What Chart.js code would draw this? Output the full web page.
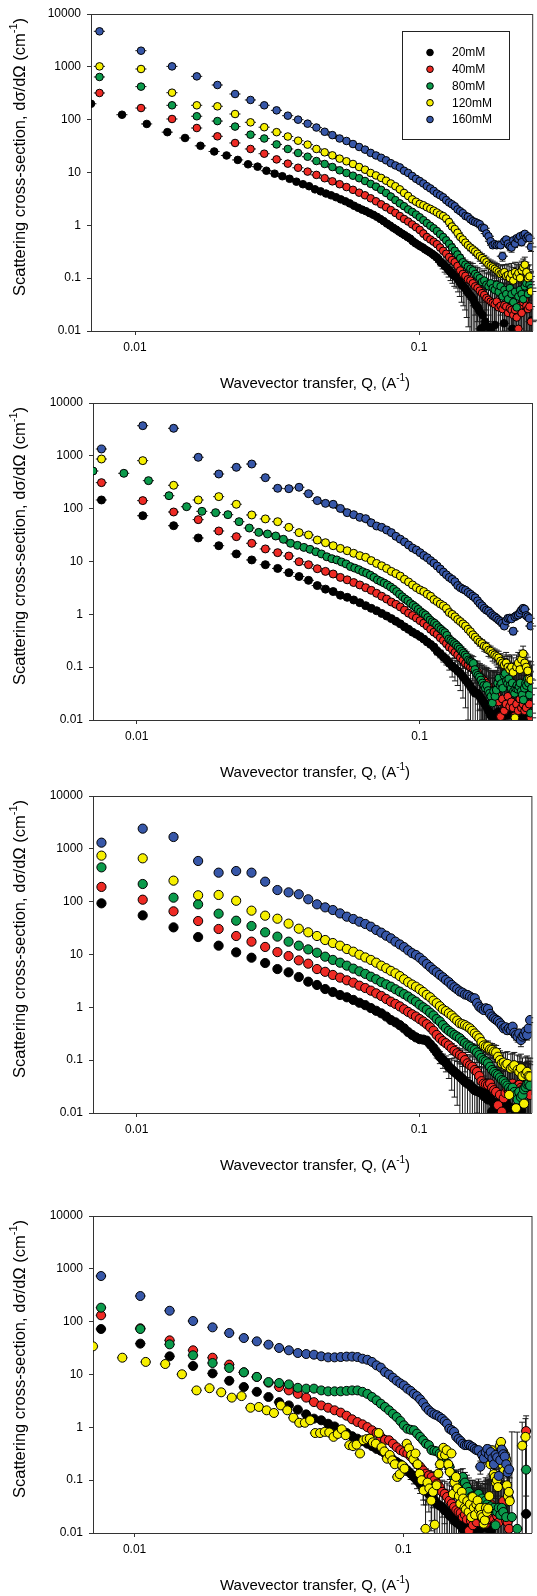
<!DOCTYPE html>
<html>
<head>
<meta charset="utf-8">
<script src="https://cdn.jsdelivr.net/npm/chart.js@4.4.1/dist/chart.umd.min.js"></script>
<style>
  html, body { margin: 0; padding: 0; background: #fff; overflow: hidden; }
  .panel { position: absolute; left: 0; width: 537px; height: 396px; }
</style>
</head>
<body>
<div class="panel" style="top:0px"><canvas id="c1" width="537" height="396"></canvas></div>
<div class="panel" style="top:389px"><canvas id="c2" width="537" height="396"></canvas></div>
<div class="panel" style="top:782px"><canvas id="c3" width="537" height="396"></canvas></div>
<div class="panel" style="top:1202px"><canvas id="c4" width="537" height="396"></canvas></div>
<script>
const concentrations = ['20mM', '40mM', '80mM', '120mM', '160mM'];
const seriesColors = ['#000000', '#ee2a24', '#0b9a4b', '#f6ef00', '#3757a8'];
const yTicks = [0.01, 0.1, 1, 10, 100, 1000, 10000];
const xTicks = [0.01, 0.1];
const xTitle = [['Wavevector transfer, Q, (A', false], ['-1', true], [')', false]];
const yTitle = [['Scattering cross-section, d\u03c3/d\u03a9 (cm', false], ['-1', true], [')', false]];

// Q grids (A^-1)
const qA = [0.0075,0.0105,0.0135,0.0165,0.0195,0.0225,0.0255,0.0285,0.0315,0.0345,
  0.0375,0.0405,0.0435,0.0465,0.0495,0.0525,0.0555,0.0585,0.0615,0.0645,
  0.0675,0.0705,0.0735,0.0765,0.0795,0.0825,0.0855,0.0885,0.0915,0.0945,
  0.0975,0.1005,0.1035,0.1065,0.1095,0.1125,0.1155,0.1185,0.1215,0.1245,
  0.1275,0.1305,0.1335,0.1365,0.1395,0.1425,0.1455,0.1485,0.1515,0.1545,
  0.1575,0.1605,0.1635,0.1665,0.1695,0.1725,0.1755,0.1785,0.1815,0.1845,
  0.1875,0.1905,0.1935,0.1965,0.1995,0.2025,0.2055,0.2085,0.2115,0.2145,
  0.2175,0.2205,0.2235,0.2265,0.2295,0.2325,0.2355,0.2385,0.2415,0.2445,
  0.2475];
const qA4 = qA.concat([0.2505,0.2535,0.2565,0.2595,0.2625,0.2655,0.2685,0.2715,0.2745,0.2775,
  0.2805,0.2835,0.2865,0.2895,0.2925,0.2955]);
const qB = [0.007,0.009,0.011,0.013,0.015,0.017,0.019,0.021,0.023,0.025,
  0.027,0.029,0.031,0.033,0.035,0.037,0.039,0.041,0.043,0.045,
  0.047,0.049,0.051,0.053,0.055,0.057,0.059,0.061,0.063,0.065,
  0.067,0.069,0.071,0.073,0.075,0.077,0.079,0.081,0.083,0.085,
  0.087,0.089,0.091,0.093,0.095,0.097,0.099,0.101,0.103,0.105,
  0.107,0.109,0.111,0.113,0.115,0.117,0.119,0.121,0.123,0.125,
  0.127,0.129,0.131,0.133,0.135,0.137,0.139,0.141,0.143,0.145,
  0.147,0.149,0.151,0.153,0.155,0.157,0.159,0.161,0.163,0.165,
  0.167,0.169,0.171,0.173,0.175,0.177,0.179,0.181,0.183,0.185,
  0.187,0.189,0.191,0.193,0.195,0.197,0.199,0.201,0.203,0.205,
  0.207,0.209,0.211,0.213,0.215,0.217,0.219,0.221,0.223,0.225,
  0.227,0.229,0.231,0.233,0.235,0.237,0.239,0.241,0.243,0.245,
  0.247,0.249];
const qB4 = qB.concat([0.251,0.253,0.255,0.257,0.259,0.261,0.263,0.265,0.267,0.269,
  0.271,0.273,0.275,0.277,0.279,0.281,0.283,0.285,0.287,0.289,
  0.291,0.293,0.295,0.297,0.299]);

// ---- panel 1 ----
const p1Black = [200,124,83,58,45,32,25,21,17.3,14.3,
  12.9,10.8,9.5,8.5,7.6,6.7,6.0,5.5,4.8,4.4,
  4.0,3.7,3.4,3.1,2.85,2.6,2.35,2.15,1.98,1.85,
  1.7,1.58,1.45,1.32,1.2,1.08,0.99,0.9,0.83,0.76,
  0.70,0.65,0.6,0.56,0.5,0.46,0.43,0.40,0.38,0.35,
  0.33,0.31,0.29,0.27,0.25,0.23,0.2,0.19,0.17,0.16,
  0.145,0.13,0.12,0.11,0.105,0.095,0.085,0.075,0.07,0.065,
  0.058,0.052,0.048,0.044,0.04,0.034,0.03,0.028,0.024,0.011,
  0.02,0.012,0.015,null,0.012,null,0.011,null,null,0.013,
  null,null,null,null,null,null,0.014,null,null,null,
  null,null,null,0.011,null,null,null,null,null,null,
  null,null,null,null,null,null,null,null,null,null,
  null,0.016];
const p1Red = [320,166,103,69.5,48.4,36.2,27.9,22.7,17.7,14.7,
  12.3,10.4,9.0,7.8,6.8,6.0,5.3,4.7,4.15,3.7,
  3.25,2.85,2.5,2.2,1.95,1.72,1.5,1.32,1.18,1.04,
  0.92,0.82,0.70,0.6,0.54,0.49,0.44,0.38,0.33,0.29,
  0.25,0.22,0.2,0.17,0.14,0.12,0.11,0.095,0.09,0.08,
  0.07,0.065,0.058,0.052,0.048,0.042,0.039,0.036,0.034,0.032,
  0.036,0.028,0.03,0.026,0.031,0.029,0.022,0.027,0.025,0.02,
  0.025,0.018,0.011,0.03,0.022,0.035,0.039,0.03,0.026,0.029,
  0.015];
const p1Green = [643,422,187,116,94,74,52,44,34,27.9,
  23.4,19.9,16.5,14.5,12.7,11.0,9.8,8.7,7.8,6.9,
  6.1,5.4,4.7,4.1,3.5,3.0,2.6,2.3,2.0,1.8,
  1.6,1.42,1.25,1.1,0.98,0.88,0.78,0.68,0.6,0.52,
  0.45,0.38,0.33,0.28,0.24,0.2,0.18,0.165,0.15,0.14,
  0.12,0.11,0.1,0.085,0.09,0.075,0.07,0.08,0.065,0.06,
  0.075,0.055,0.07,0.045,0.06,0.05,0.04,0.065,0.05,0.035,
  0.055,0.028,0.045,0.06,0.05,0.04,0.07,0.08,0.05,0.075,
  0.065];
const p1Yellow = [1020,910,324,187,179,128,89,72,58,48,
  40,33.7,27.9,24.1,21.1,18.3,16.3,14.5,12.7,11.3,
  9.8,8.8,7.9,7.0,6.2,5.5,4.8,4.1,3.6,3.1,
  2.8,2.55,2.4,2.2,2.05,1.9,1.75,1.6,1.5,1.35,
  1.15,0.95,0.85,0.72,0.6,0.54,0.47,0.42,0.38,0.35,
  0.32,0.29,0.26,0.24,0.22,0.2,0.18,0.17,0.16,0.15,
  0.14,0.13,0.12,0.125,0.13,0.11,0.115,0.1,0.12,0.09,
  0.13,0.11,0.125,0.1,0.14,0.16,0.18,0.13,0.1,0.108,
  0.056];
const p1Blue = [4700,2020,1020,660,453,306,236,187,150,119,
  100,84,71,59,51,44,39.5,34.6,30.4,27.1,
  23.5,21,19,17,15,13.6,12.5,10.8,9.8,8.6,
  7.6,6.9,6.2,5.5,5.0,4.5,4.0,3.7,3.4,3.0,
  2.7,2.5,2.3,2.0,1.85,1.7,1.5,1.45,1.3,1.2,
  1.15,1.1,1.05,0.9,0.88,0.7,0.62,0.5,0.42,0.44,
  0.42,0.43,0.42,0.26,0.5,0.54,0.45,0.40,0.38,0.52,
  0.45,0.57,0.55,0.62,0.48,0.66,0.69,0.58,0.62,0.57,
  0.39];
const p1ErrQ = [0.09, 0.12, 0.15, 0.2];
const p1ErrAbs = [0.03, 0.04, 0.05, 0.07];

// ---- panel 2 ----
const p2Black = [146,73.6,47.6,27.9,19.9,13.9,10.7,8.7,7.4,6.15,
  5.2,4.4,3.5,3.0,2.7,2.3,2.1,1.87,1.66,1.46,
  1.3,1.17,1.04,0.93,0.83,0.74,0.66,0.58,0.52,0.46,
  0.42,0.38,0.34,0.3,0.27,0.24,0.2,0.18,0.155,0.14,
  0.118,0.105,0.095,0.085,0.076,0.066,0.057,0.05,0.043,0.037,
  0.032,0.032,0.028,0.024,0.021,0.018,0.015,0.0124,0.0116,0.013,
  0.011,0.0144,0.012,0.011,0.0124,null,0.0124,null,0.013,null,
  0.0124,null,0.013,null,0.0116,null,null,0.0116,null,null,
  null];
const p2Red = [311,142,86.5,62,37.8,29.5,22.1,17.3,14.7,12.7,
  9.9,8.7,7.3,6.5,5.8,5.0,4.5,4.0,3.6,3.2,
  2.85,2.5,2.2,1.95,1.71,1.55,1.38,1.2,1.05,0.95,
  0.85,0.76,0.68,0.6,0.52,0.46,0.42,0.36,0.32,0.28,
  0.24,0.22,0.19,0.17,0.15,0.135,0.118,0.11,0.1,0.095,
  0.09,0.08,0.066,0.06,0.055,0.049,0.043,0.037,0.035,0.032,
  0.03,0.022,0.0116,0.025,0.015,0.02,0.028,0.018,0.022,0.017,
  0.012,0.02,0.015,0.025,0.017,0.02,0.015,0.017,0.03,0.02,
  0.011];
const p2Green = [516,467,339,176,109,89,84,77,56.7,43,
  35.6,33.2,30.4,26.3,22.1,20.2,18.5,17,15.3,13.9,
  12.3,11.3,10.7,9.8,9.0,8.0,7.5,7.0,6.4,6.0,
  5.5,5.0,4.5,4.2,3.9,3.6,3.3,3.0,2.7,2.4,
  2.15,1.95,1.8,1.6,1.48,1.36,1.24,1.12,1.04,0.97,
  0.87,0.78,0.72,0.68,0.62,0.56,0.52,0.48,0.45,0.4,
  0.34,0.32,0.3,0.28,0.26,0.24,0.22,0.2,0.185,0.17,
  0.155,0.137,0.13,0.125,0.118,0.09,0.076,0.07,0.065,0.057,
  0.05,0.045,0.04,0.045,0.036,0.032,0.028,0.021,0.035,0.028,
  0.037,0.05,0.062,0.045,0.049,0.04,0.07,0.076,0.055,0.049,
  0.06,0.045,0.04,0.05,0.035,0.032,0.04,0.045,0.038,0.043,
  0.05,0.035,0.03,0.024,0.04,0.049,0.045,0.06,0.05,0.03,
  0.0135,0.04];
const p2Yellow = [871,811,277,146,169,121,76,64,56.7,44.3,
  35.2,31.8,25.5,22.7,19.9,17.7,16,14.3,12.9,12.0,
  10.4,9.2,8.3,7.4,6.5,5.9,5.3,4.6,4.1,3.6,
  3.2,2.9,2.7,2.4,2.2,1.9,1.74,1.57,1.45,1.3,
  1.08,1.0,0.9,0.8,0.73,0.66,0.6,0.52,0.47,0.41,
  0.37,0.33,0.3,0.28,0.25,0.24,0.21,0.2,0.18,0.17,
  0.16,0.15,0.13,0.12,0.11,0.12,0.1,0.09,0.1,0.08,
  0.011,0.1,0.12,0.09,0.14,0.18,0.12,0.1,0.085,0.06,
  0.057];
const p2Blue = [1346,3720,3320,938,453,606,700,386,243,239,
  254,192,142,126,121,101,84,77,68.5,64.7,
  54,47,44.3,39.5,35.2,30,26.5,23.5,20.5,18,
  16.5,14.7,13,11.8,10.4,9.3,8.2,7.2,6.3,5.6,
  5.0,4.6,4.15,3.5,3.2,3.0,2.85,2.6,2.4,2.2,
  2.05,1.8,1.6,1.45,1.3,1.2,1.15,1.04,0.95,0.9,
  0.84,0.78,0.73,0.68,0.6,0.75,0.84,0.85,0.82,0.48,
  0.9,0.95,0.97,1.05,1.2,1.3,1.25,0.95,0.9,0.84,
  0.6];
const p2ErrQ = [0.1, 0.13, 0.16, 0.2];
const p2ErrAbs = [0.03, 0.04, 0.05, 0.07];

// ---- panel 3 ----
const p3Black = [93,55,32.6,21.4,14.7,11.0,8.7,6.9,5.3,4.6,
  3.75,3.06,2.65,2.22,1.95,1.71,1.55,1.38,1.22,1.1,
  0.97,0.86,0.77,0.67,0.575,0.52,0.46,0.4,0.34,0.3,
  0.27,0.25,0.245,0.234,0.2,0.17,0.14,0.116,0.1,0.09,
  0.075,0.067,0.06,0.054,0.049,0.044,0.039,0.036,0.034,0.03,
  0.027,0.026,0.025,0.024,0.021,0.024,0.018,0.02,0.0106,0.015,
  0.013,0.016,0.012,0.014,0.011,0.016,null,0.013,null,null,
  0.012,null,null,null,0.011,null,null,null,null,null,
  null];
const p3Red = [190,109,65.6,43,30.4,22.4,17.5,13.9,11.1,9.35,
  7.75,6.7,5.3,4.7,4.1,3.65,3.25,2.93,2.57,2.32,
  2.07,1.84,1.64,1.44,1.28,1.16,1.04,0.92,0.82,0.74,
  0.67,0.6,0.54,0.48,0.42,0.36,0.3,0.26,0.23,0.21,
  0.19,0.167,0.15,0.135,0.125,0.116,0.1,0.087,0.08,0.075,
  0.065,0.06,0.05,0.04,0.036,0.035,0.034,0.036,0.03,0.027,
  0.025,0.014,0.022,0.0106,0.019,0.024,0.029,0.026,0.031,0.036,
  0.03,0.028,0.033,0.034,0.03,0.028,0.026,0.03,0.025,0.026,
  0.022];
const p3Green = [446,216,119,89,59.3,43.6,34.6,26.3,21.8,17.5,
  14.7,12.5,10.8,9.1,7.9,7.0,6.15,5.4,4.8,4.3,
  3.8,3.4,3.0,2.72,2.46,2.2,1.98,1.78,1.6,1.42,
  1.28,1.12,1.0,0.9,0.79,0.7,0.6,0.54,0.46,0.4,
  0.36,0.33,0.3,0.28,0.26,0.23,0.21,0.19,0.18,0.165,
  0.156,0.14,0.125,0.11,0.1,0.095,0.087,0.075,0.065,0.06,
  0.055,0.052,0.047,0.042,0.04,0.036,0.033,0.03,0.027,0.03,
  0.025,0.022,0.018,0.025,0.02,0.022,0.028,0.031,0.035,0.036,
  0.033];
const p3Yellow = [743,661,250,132,134,104,67.6,54.3,47.6,38.4,
  30.8,26.3,22.4,18.8,16.5,14.7,12.7,11.3,9.9,8.8,
  7.9,7.0,6.15,5.5,4.9,4.4,3.9,3.4,3.0,2.7,
  2.46,2.2,1.95,1.72,1.55,1.34,1.2,1.05,0.92,0.85,
  0.77,0.7,0.62,0.56,0.5,0.48,0.46,0.43,0.4,0.36,
  0.32,0.29,0.26,0.22,0.19,0.18,0.18,0.16,0.156,0.145,
  0.14,0.116,0.1,0.087,0.09,0.08,0.085,0.022,0.07,0.075,
  0.08,0.0123,0.065,0.06,0.07,0.05,0.015,0.055,0.06,0.05,
  0.049];
const p3Blue = [1309,2410,1675,589,354,380,354,239,166,150,
  138,111,89,78,69.5,60,52,47,41.8,37.8,
  33.6,29.1,25.9,22.7,20.2,17.5,15.5,13.8,12,10.6,
  9.8,8.7,7.6,6.6,5.8,5.1,4.6,4.1,3.7,3.3,
  3.0,2.65,2.4,2.2,2.0,1.9,1.75,1.71,1.6,1.5,
  1.48,1.2,1.03,0.95,0.89,0.96,0.93,0.75,0.67,0.62,
  0.58,0.55,0.5,0.45,0.4,0.42,0.37,0.4,0.37,0.43,
  0.33,0.3,0.28,0.32,0.24,0.28,0.3,0.35,0.3,0.4,
  0.575];
const p3ErrQ = [0.1, 0.13, 0.16, 0.2];
const p3ErrAbs = [0.03, 0.04, 0.05, 0.06];

// ---- panel 4 ----
const p4Black = [72.6,38.4,22.1,14.5,10.5,7.6,5.8,4.7,3.75,3.0,
  2.6,2.16,1.76,1.46,1.36,1.17,1.04,0.88,0.78,0.68,
  0.61,0.55,0.49,0.44,0.39,0.36,0.32,0.27,0.244,0.22,
  0.2,0.178,0.153,0.133,0.115,0.099,0.086,0.072,0.064,0.055,
  0.047,0.041,0.036,0.033,0.031,0.027,0.025,0.0216,0.02,0.0174,
  0.016,0.015,0.014,0.012,0.014,0.016,0.013,0.0116,0.0104,null,
  0.014,null,0.0122,null,null,0.013,null,null,0.011,null,
  null,null,null,null,null,null,null,null,null,null,
  null,null,null,null,null,null,null,null,null,null,
  null,null,null,0.023,null,null,null];
const p4Red = [132,75,44.3,28.7,20.8,15.4,11.0,9.0,7.0,5.8,
  5.0,4.3,3.65,3.0,2.6,2.35,2.1,1.9,1.66,1.42,
  1.26,1.14,1.01,0.88,0.79,0.66,0.58,0.57,0.49,0.42,
  0.37,0.34,0.32,0.28,0.24,0.2,0.18,0.153,0.133,0.123,
  0.115,0.099,0.086,0.074,0.06,0.055,0.048,0.041,0.036,0.031,
  0.027,0.025,0.024,0.02,0.022,0.018,0.011,0.017,0.014,0.02,
  0.016,0.022,0.025,0.019,0.02,0.015,0.018,0.03,0.035,0.02,
  0.018,0.015,0.021,0.016,0.025,0.03,0.04,0.02,0.017,0.016,
  0.012,null,null,null,null,null,null,null,null,null,
  null,null,null,0.85,null,null,null];
const p4Green = [184,72.6,37.2,23.1,16.5,13.3,11.0,9.0,7.2,6.9,
  6.5,5.6,5.4,5.4,5.0,4.8,4.8,4.8,4.9,5.0,
  5.0,4.7,4.3,3.75,3.25,2.8,2.43,2.1,1.8,1.57,
  1.32,1.09,0.94,0.9,0.88,0.76,0.66,0.57,0.49,0.46,
  0.37,0.36,0.35,0.32,0.27,0.24,0.2,0.18,0.133,0.115,
  0.107,0.099,0.11,0.115,0.09,0.074,0.06,0.048,0.05,0.039,
  0.045,0.055,0.036,0.045,0.036,0.041,0.035,0.029,0.032,0.027,
  0.03,0.014,0.025,0.03,0.022,0.03,0.025,null,0.02,null,
  0.044,null,0.02,null,null,null,0.012,null,null,null,
  null,null,null,0.158,null,null,null];
const p4Yellow = [34.1,20.8,17.3,15.8,10.1,5.0,5.5,4.6,3.65,3.9,
  2.35,2.43,2.1,1.87,2.6,2.1,1.52,1.22,1.22,1.36,
  0.78,0.78,0.82,0.8,0.66,0.75,0.92,0.71,0.46,0.44,
  0.47,0.32,0.57,0.6,0.61,0.52,0.49,0.78,0.42,0.35,
  0.255,0.3,0.237,0.2,0.115,0.13,0.19,0.165,0.49,0.4,
  0.3,0.25,0.32,0.2,0.133,0.1,0.064,0.012,0.09,0.07,
  0.041,0.06,0.0144,0.08,0.133,0.2,0.3,0.41,0.3,0.37,
  0.2,0.143,0.32,0.055,0.09,0.115,0.07,0.05,0.036,0.06,
  0.045,0.03,0.028,0.04,0.025,0.035,0.02,0.048,0.03,0.022,
  0.035,0.041,0.028,0.03,0.022,0.02,0.015,0.0174,0.03,0.025,
  0.029,0.05,0.2,0.37,0.25,0.13,0.115,0.09,0.1,0.074,
  0.3,0.45,0.53,0.2,0.35,0.15,0.3,0.255,0.08,0.05,
  0.06,0.04,null,null,null,null,null,null,null,null,
  null,null,null,null,null,0.45,null,null,null,0.66,
  null,null,null,null,null,null,null];
const p4Blue = [731,306,161,103,78,61,49,42.4,36.7,31.8,
  28.7,25.5,24.4,23.7,22.1,21.1,21.1,21.4,21.8,21.8,
  21.4,19.9,19,17.3,14.9,13.5,11.1,10,8.7,7.6,
  6.8,6.2,5.4,4.9,4.3,3.9,3.4,2.9,2.4,2.1,
  1.9,1.76,1.69,1.57,1.45,1.3,1.17,0.94,0.88,0.82,
  0.66,0.6,0.55,0.49,0.46,0.46,0.47,0.44,0.42,0.39,
  0.37,0.37,0.18,0.3,0.26,0.34,0.39,0.3,0.34,0.26,
  0.2,0.3,0.27,0.12,0.24,0.38,0.31,0.28,0.2,0.14,
  0.16,null,null,null,null,null,null,null,null,null,
  null,null,null,null,null,null,null];
const p4ErrQ = [0.1, 0.13, 0.16, 0.2, 0.25];
const p4ErrAbs = [0.03, 0.04, 0.05, 0.07, 0.8];

const panels = [
  { id: 'c1', xMax: 0.25, left: 91, right: 534, radius: 3.8, dq: 0.045, legend: true,
    errQ: p1ErrQ, errAbs: p1ErrAbs,
    series: [[qB, p1Black], [qA, p1Red], [qA, p1Green], [qA, p1Yellow], [qA, p1Blue]] },
  { id: 'c2', xMax: 0.25, left: 93, right: 536, radius: 4, dq: 0.045, legend: false,
    errQ: p2ErrQ, errAbs: p2ErrAbs,
    series: [[qA, p2Black], [qA, p2Red], [qB, p2Green], [qA, p2Yellow], [qA, p2Blue]] },
  { id: 'c3', xMax: 0.25, left: 93, right: 536, radius: 4.6, dq: 0, legend: false,
    errQ: p3ErrQ, errAbs: p3ErrAbs,
    series: [[qA, p3Black], [qA, p3Red], [qA, p3Green], [qA, p3Yellow], [qA, p3Blue]] },
  { id: 'c4', xMax: 0.3, left: 93, right: 536, radius: 4.5, dq: 0.045, legend: false,
    errQ: p4ErrQ, errAbs: p4ErrAbs,
    series: [[qA4, p4Black], [qA4, p4Red], [qA4, p4Green], [qB4, p4Yellow], [qA4, p4Blue]] }
];

const FONT = "'Liberation Sans', Arial, sans-serif";
Chart.defaults.font.family = FONT;

function errorFor(q, edges, errs) {
  let e = 0;
  for (let i = 0; i < edges.length; i++) {
    if (q >= edges[i]) e = errs[i];
  }
  return e;
}

function drawRich(ctx, parts, cx, cy, size) {
  const main = size + 'px ' + FONT;
  const sup = Math.round(size * 0.68) + 'px ' + FONT;
  let w = 0;
  parts.forEach(([t, s]) => { ctx.font = s ? sup : main; w += ctx.measureText(t).width; });
  let x = cx - w / 2;
  ctx.textAlign = 'left';
  ctx.textBaseline = 'middle';
  parts.forEach(([t, s]) => {
    ctx.font = s ? sup : main;
    ctx.fillText(t, x, s ? cy - size * 0.36 : cy);
    x += ctx.measureText(t).width;
  });
}

const sigmaPlot = {
  id: 'sigmaPlot',
  beforeDatasetsDraw(chart, args, opts) {
    const {ctx, chartArea: a, scales: {x, y}} = chart;
    ctx.save();
    ctx.beginPath();
    ctx.rect(a.left, a.top - 6, a.right - a.left + 6, a.bottom - a.top + 6);
    ctx.clip();
    ctx.strokeStyle = '#1a1a1a';
    ctx.lineWidth = 1;
    ctx.beginPath();
    chart.data.datasets.forEach(ds => {
      ds.data.forEach(p => {
        const px = x.getPixelForValue(p.x);
        const py = y.getPixelForValue(p.y);
        if (opts.dq > 0) {
          ctx.moveTo(x.getPixelForValue(p.x * (1 - opts.dq)), py);
          ctx.lineTo(x.getPixelForValue(p.x * (1 + opts.dq)), py);
        }
        const e = errorFor(p.x, opts.errQ, opts.errAbs);
        if (e > 0) {
          const top = y.getPixelForValue(p.y + e);
          const low = p.y - e > 0 ? y.getPixelForValue(p.y - e) : a.bottom + 4;
          ctx.moveTo(px, top); ctx.lineTo(px, low);
          ctx.moveTo(px - 3, top); ctx.lineTo(px + 3, top);
          if (p.y - e > 0) { ctx.moveTo(px - 3, low); ctx.lineTo(px + 3, low); }
        }
      });
    });
    ctx.stroke();
    ctx.restore();
  },
  afterDraw(chart, args, opts) {
    const {ctx, chartArea: a} = chart;
    ctx.save();
    // top and right edges of the frame
    ctx.strokeStyle = '#333';
    ctx.lineWidth = 1;
    ctx.beginPath();
    ctx.moveTo(a.left, a.top + 0.5); ctx.lineTo(a.right + 0.5, a.top + 0.5);
    ctx.moveTo(a.right + 0.5, a.top); ctx.lineTo(a.right + 0.5, a.bottom);
    ctx.stroke();

    ctx.fillStyle = '#000';
    drawRich(ctx, xTitle, 315, a.bottom + 53, 15);
    ctx.save();
    ctx.translate(20, a.top + 143);
    ctx.rotate(-Math.PI / 2);
    drawRich(ctx, yTitle, 0, 0, 16.5);
    ctx.restore();

    if (opts.legend) {
      ctx.strokeStyle = '#222';
      ctx.strokeRect(402.5, 31.5, 107, 108);
      ctx.font = '12px ' + FONT;
      ctx.textAlign = 'left';
      ctx.textBaseline = 'middle';
      chart.data.datasets.forEach((ds, i) => {
        const yy = 52.5 + i * 16.75;
        ctx.beginPath();
        ctx.arc(430, yy, 3.3, 0, Math.PI * 2);
        ctx.fillStyle = ds.backgroundColor;
        ctx.fill();
        ctx.strokeStyle = '#000';
        ctx.stroke();
        ctx.fillStyle = '#000';
        ctx.fillText(ds.label, 452, yy + 0.5);
      });
    }
    ctx.restore();
  }
};

panels.forEach(cfg => {
  const datasets = cfg.series.map(([qs, vals], i) => ({
    label: concentrations[i],
    data: qs.map((q, k) => ({x: q, y: vals[k]})).filter(p => p.y != null),
    backgroundColor: seriesColors[i],
    borderColor: '#000',
    borderWidth: 1,
    pointRadius: cfg.radius,
    pointHoverRadius: cfg.radius,
    showLine: false,
    order: concentrations.length - i
  }));
  const axisCommon = {
    type: 'logarithmic',
    grid: {drawOnChartArea: false, drawTicks: true, tickLength: 4, color: '#333', tickColor: '#333', lineWidth: 1},
    border: {display: true, color: '#333', width: 1}
  };
  new Chart(document.getElementById(cfg.id), {
    type: 'scatter',
    data: {datasets},
    options: {
      responsive: false,
      animation: false,
      events: [],
      layout: {padding: {left: 0, top: 14, right: 537 - cfg.right, bottom: 0}},
      plugins: {
        legend: {display: false},
        tooltip: {enabled: false},
        sigmaPlot: {dq: cfg.dq, errQ: cfg.errQ, errAbs: cfg.errAbs, legend: cfg.legend}
      },
      scales: {
        x: Object.assign({}, axisCommon, {
          min: 0.007, max: cfg.xMax,
          afterBuildTicks: s => { s.ticks = xTicks.map(v => ({value: v})); },
          afterFit: s => { s.height = 65; },
          ticks: {callback: v => String(v), color: '#000', font: {size: 12}, padding: 5, maxRotation: 0, autoSkip: false}
        }),
        y: Object.assign({}, axisCommon, {
          min: 0.01, max: 10000,
          afterBuildTicks: s => { s.ticks = yTicks.map(v => ({value: v})); },
          afterFit: s => { s.width = cfg.left; },
          ticks: {callback: v => String(v), color: '#000', font: {size: 12}, padding: 6, autoSkip: false}
        })
      }
    },
    plugins: [sigmaPlot]
  });
});
</script>
</body>
</html>
